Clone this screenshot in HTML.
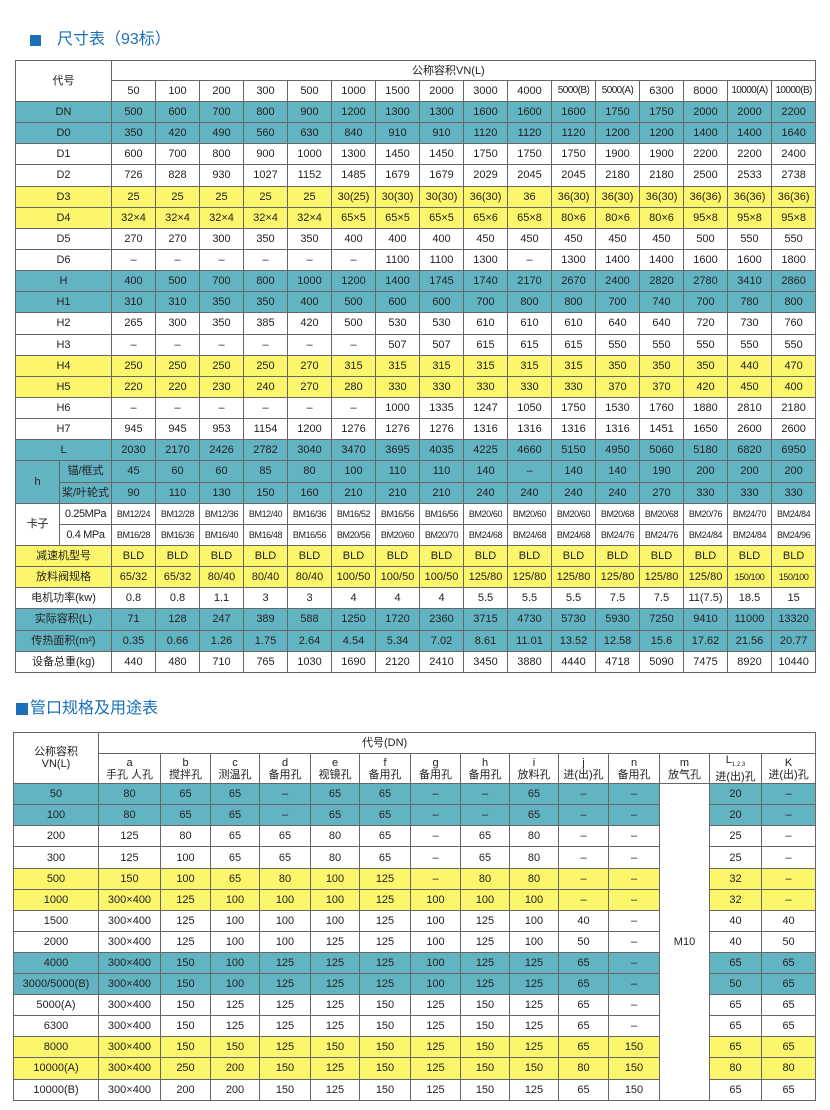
<!DOCTYPE html>
<html><head><meta charset="utf-8">
<style>
body{margin:0;width:830px;height:1110px;background:#fff;position:relative;font-family:"Liberation Sans","Noto Sans CJK SC",sans-serif;color:#222;overflow:hidden}
.t{position:absolute;color:#1a6fb8;font-size:16px;line-height:20px}
.sq{position:absolute;background:#1a6fb8}
table{position:absolute;border-collapse:collapse;table-layout:fixed;font-size:11px}
td{border:1px solid #666;text-align:center;padding:0;white-space:nowrap;overflow:hidden;line-height:12px}
#t1 tr.b td{height:20.15px}
#t2 tr.b td{height:20.1px}
.g td{background:#62b4c2}
.y td{background:#fcf66c}
.s{font-size:9px;letter-spacing:-0.4px}
.n{font-size:10px;letter-spacing:-0.6px}
.h td{background:#fff}
</style></head><body>
<div class="sq" style="left:30px;top:35px;width:11px;height:11px"></div>
<div class="t" style="left:57px;top:30px">尺寸表（93标）</div>

<table id="t1" style="left:15px;top:60px;width:800px">
<colgroup><col style="width:44px"><col style="width:52px"><col span="16" style="width:44px"></colgroup>
<tr class="h"><td colspan="2" rowspan="2" style="height:40px">代号</td><td colspan="16" style="height:19px;text-align:left;padding-left:300px">公称容积VN(L)</td></tr>
<tr class="h"><td style="height:20px">50</td><td>100</td><td>200</td><td>300</td><td>500</td><td>1000</td><td>1500</td><td>2000</td><td>3000</td><td>4000</td><td class="n">5000(B)</td><td class="n">5000(A)</td><td>6300</td><td>8000</td><td class="n">10000(A)</td><td class="n">10000(B)</td></tr>
<tr class="b g"><td colspan="2">DN</td><td>500</td><td>600</td><td>700</td><td>800</td><td>900</td><td>1200</td><td>1300</td><td>1300</td><td>1600</td><td>1600</td><td>1600</td><td>1750</td><td>1750</td><td>2000</td><td>2000</td><td>2200</td></tr>
<tr class="b g"><td colspan="2">D0</td><td>350</td><td>420</td><td>490</td><td>560</td><td>630</td><td>840</td><td>910</td><td>910</td><td>1120</td><td>1120</td><td>1120</td><td>1200</td><td>1200</td><td>1400</td><td>1400</td><td>1640</td></tr>
<tr class="b"><td colspan="2">D1</td><td>600</td><td>700</td><td>800</td><td>900</td><td>1000</td><td>1300</td><td>1450</td><td>1450</td><td>1750</td><td>1750</td><td>1750</td><td>1900</td><td>1900</td><td>2200</td><td>2200</td><td>2400</td></tr>
<tr class="b"><td colspan="2">D2</td><td>726</td><td>828</td><td>930</td><td>1027</td><td>1152</td><td>1485</td><td>1679</td><td>1679</td><td>2029</td><td>2045</td><td>2045</td><td>2180</td><td>2180</td><td>2500</td><td>2533</td><td>2738</td></tr>
<tr class="b y"><td colspan="2">D3</td><td>25</td><td>25</td><td>25</td><td>25</td><td>25</td><td>30(25)</td><td>30(30)</td><td>30(30)</td><td>36(30)</td><td>36</td><td>36(30)</td><td>36(30)</td><td>36(30)</td><td>36(36)</td><td>36(36)</td><td>36(36)</td></tr>
<tr class="b y"><td colspan="2">D4</td><td>32×4</td><td>32×4</td><td>32×4</td><td>32×4</td><td>32×4</td><td>65×5</td><td>65×5</td><td>65×5</td><td>65×6</td><td>65×8</td><td>80×6</td><td>80×6</td><td>80×6</td><td>95×8</td><td>95×8</td><td>95×8</td></tr>
<tr class="b"><td colspan="2">D5</td><td>270</td><td>270</td><td>300</td><td>350</td><td>350</td><td>400</td><td>400</td><td>400</td><td>450</td><td>450</td><td>450</td><td>450</td><td>450</td><td>500</td><td>550</td><td>550</td></tr>
<tr class="b"><td colspan="2">D6</td><td>–</td><td>–</td><td>–</td><td>–</td><td>–</td><td>–</td><td>1100</td><td>1100</td><td>1300</td><td>–</td><td>1300</td><td>1400</td><td>1400</td><td>1600</td><td>1600</td><td>1800</td></tr>
<tr class="b g"><td colspan="2">H</td><td>400</td><td>500</td><td>700</td><td>800</td><td>1000</td><td>1200</td><td>1400</td><td>1745</td><td>1740</td><td>2170</td><td>2670</td><td>2400</td><td>2820</td><td>2780</td><td>3410</td><td>2860</td></tr>
<tr class="b g"><td colspan="2">H1</td><td>310</td><td>310</td><td>350</td><td>350</td><td>400</td><td>500</td><td>600</td><td>600</td><td>700</td><td>800</td><td>800</td><td>700</td><td>740</td><td>700</td><td>780</td><td>800</td></tr>
<tr class="b"><td colspan="2">H2</td><td>265</td><td>300</td><td>350</td><td>385</td><td>420</td><td>500</td><td>530</td><td>530</td><td>610</td><td>610</td><td>610</td><td>640</td><td>640</td><td>720</td><td>730</td><td>760</td></tr>
<tr class="b"><td colspan="2">H3</td><td>–</td><td>–</td><td>–</td><td>–</td><td>–</td><td>–</td><td>507</td><td>507</td><td>615</td><td>615</td><td>615</td><td>550</td><td>550</td><td>550</td><td>550</td><td>550</td></tr>
<tr class="b y"><td colspan="2">H4</td><td>250</td><td>250</td><td>250</td><td>250</td><td>270</td><td>315</td><td>315</td><td>315</td><td>315</td><td>315</td><td>315</td><td>350</td><td>350</td><td>350</td><td>440</td><td>470</td></tr>
<tr class="b y"><td colspan="2">H5</td><td>220</td><td>220</td><td>230</td><td>240</td><td>270</td><td>280</td><td>330</td><td>330</td><td>330</td><td>330</td><td>330</td><td>370</td><td>370</td><td>420</td><td>450</td><td>400</td></tr>
<tr class="b"><td colspan="2">H6</td><td>–</td><td>–</td><td>–</td><td>–</td><td>–</td><td>–</td><td>1000</td><td>1335</td><td>1247</td><td>1050</td><td>1750</td><td>1530</td><td>1760</td><td>1880</td><td>2810</td><td>2180</td></tr>
<tr class="b"><td colspan="2">H7</td><td>945</td><td>945</td><td>953</td><td>1154</td><td>1200</td><td>1276</td><td>1276</td><td>1276</td><td>1316</td><td>1316</td><td>1316</td><td>1316</td><td>1451</td><td>1650</td><td>2600</td><td>2600</td></tr>
<tr class="b g"><td colspan="2">L</td><td>2030</td><td>2170</td><td>2426</td><td>2782</td><td>3040</td><td>3470</td><td>3695</td><td>4035</td><td>4225</td><td>4660</td><td>5150</td><td>4950</td><td>5060</td><td>5180</td><td>6820</td><td>6950</td></tr>
<tr class="b g"><td rowspan="2">h</td><td>锚/框式</td><td>45</td><td>60</td><td>60</td><td>85</td><td>80</td><td>100</td><td>110</td><td>110</td><td>140</td><td>–</td><td>140</td><td>140</td><td>190</td><td>200</td><td>200</td><td>200</td></tr>
<tr class="b g"><td>桨/叶轮式</td><td>90</td><td>110</td><td>130</td><td>150</td><td>160</td><td>210</td><td>210</td><td>210</td><td>240</td><td>240</td><td>240</td><td>240</td><td>270</td><td>330</td><td>330</td><td>330</td></tr>
<tr class="b s"><td rowspan="2" style="font-size:11px">卡子</td><td style="font-size:11px">0.25MPa</td><td>BM12/24</td><td>BM12/28</td><td>BM12/36</td><td>BM12/40</td><td>BM16/36</td><td>BM16/52</td><td>BM16/56</td><td>BM16/56</td><td>BM20/60</td><td>BM20/60</td><td>BM20/60</td><td>BM20/68</td><td>BM20/68</td><td>BM20/76</td><td>BM24/70</td><td>BM24/84</td></tr>
<tr class="b s"><td style="font-size:11px">0.4 MPa</td><td>BM16/28</td><td>BM16/36</td><td>BM16/40</td><td>BM16/48</td><td>BM16/56</td><td>BM20/56</td><td>BM20/60</td><td>BM20/70</td><td>BM24/68</td><td>BM24/68</td><td>BM24/68</td><td>BM24/76</td><td>BM24/76</td><td>BM24/84</td><td>BM24/84</td><td>BM24/96</td></tr>
<tr class="b y"><td colspan="2">减速机型号</td><td>BLD</td><td>BLD</td><td>BLD</td><td>BLD</td><td>BLD</td><td>BLD</td><td>BLD</td><td>BLD</td><td>BLD</td><td>BLD</td><td>BLD</td><td>BLD</td><td>BLD</td><td>BLD</td><td>BLD</td><td>BLD</td></tr>
<tr class="b y"><td colspan="2">放料阀规格</td><td>65/32</td><td>65/32</td><td>80/40</td><td>80/40</td><td>80/40</td><td>100/50</td><td>100/50</td><td>100/50</td><td>125/80</td><td>125/80</td><td>125/80</td><td>125/80</td><td>125/80</td><td>125/80</td><td class="s">150/100</td><td class="s">150/100</td></tr>
<tr class="b"><td colspan="2">电机功率(kw)</td><td>0.8</td><td>0.8</td><td>1.1</td><td>3</td><td>3</td><td>4</td><td>4</td><td>4</td><td>5.5</td><td>5.5</td><td>5.5</td><td>7.5</td><td>7.5</td><td>11(7.5)</td><td>18.5</td><td>15</td></tr>
<tr class="b g"><td colspan="2">实际容积(L)</td><td>71</td><td>128</td><td>247</td><td>389</td><td>588</td><td>1250</td><td>1720</td><td>2360</td><td>3715</td><td>4730</td><td>5730</td><td>5930</td><td>7250</td><td>9410</td><td>11000</td><td>13320</td></tr>
<tr class="b g"><td colspan="2">传热面积(m²)</td><td>0.35</td><td>0.66</td><td>1.26</td><td>1.75</td><td>2.64</td><td>4.54</td><td>5.34</td><td>7.02</td><td>8.61</td><td>11.01</td><td>13.52</td><td>12.58</td><td>15.6</td><td>17.62</td><td>21.56</td><td>20.77</td></tr>
<tr class="b"><td colspan="2">设备总重(kg)</td><td>440</td><td>480</td><td>710</td><td>765</td><td>1030</td><td>1690</td><td>2120</td><td>2410</td><td>3450</td><td>3880</td><td>4440</td><td>4718</td><td>5090</td><td>7475</td><td>8920</td><td>10440</td></tr>
</table>

<div class="sq" style="left:16px;top:703px;width:12px;height:12px"></div>
<div class="t" style="left:30px;top:699px">管口规格及用途表</div>

<table id="t2" style="left:13px;top:732px;width:802px">
<colgroup><col style="width:85px"><col style="width:62px"><col style="width:50px"><col style="width:49px"><col style="width:51px"><col style="width:49px"><col style="width:51px"><col style="width:50px"><col style="width:49px"><col style="width:49px"><col style="width:50px"><col style="width:51px"><col style="width:50px"><col style="width:52px"><col style="width:54px"></colgroup>
<tr class="h"><td rowspan="2" style="height:50px">公称容积<br>VN(L)</td><td colspan="14" style="height:20px;text-align:left;padding-left:263px">代号(DN)</td></tr>
<tr class="h"><td style="height:29px">a<br>手孔 人孔</td><td>b<br>搅拌孔</td><td>c<br>测温孔</td><td>d<br>备用孔</td><td>e<br>视镜孔</td><td>f<br>备用孔</td><td>g<br>备用孔</td><td>h<br>备用孔</td><td>i<br>放料孔</td><td>j<br>进(出)孔</td><td>n<br>备用孔</td><td>m<br>放气孔</td><td>L<sub style="font-size:6px">1.2.3</sub><br>进(出)孔</td><td>K<br>进(出)孔</td></tr>
<tr class="b g"><td>50</td><td>80</td><td>65</td><td>65</td><td>–</td><td>65</td><td>65</td><td>–</td><td>–</td><td>65</td><td>–</td><td>–</td><td rowspan="15" style="background:#fff">M10</td><td>20</td><td>–</td></tr>
<tr class="b g"><td>100</td><td>80</td><td>65</td><td>65</td><td>–</td><td>65</td><td>65</td><td>–</td><td>–</td><td>65</td><td>–</td><td>–</td><td>20</td><td>–</td></tr>
<tr class="b"><td>200</td><td>125</td><td>80</td><td>65</td><td>65</td><td>80</td><td>65</td><td>–</td><td>65</td><td>80</td><td>–</td><td>–</td><td>25</td><td>–</td></tr>
<tr class="b"><td>300</td><td>125</td><td>100</td><td>65</td><td>65</td><td>80</td><td>65</td><td>–</td><td>65</td><td>80</td><td>–</td><td>–</td><td>25</td><td>–</td></tr>
<tr class="b y"><td>500</td><td>150</td><td>100</td><td>65</td><td>80</td><td>100</td><td>125</td><td>–</td><td>80</td><td>80</td><td>–</td><td>–</td><td>32</td><td>–</td></tr>
<tr class="b y"><td>1000</td><td>300×400</td><td>125</td><td>100</td><td>100</td><td>100</td><td>125</td><td>100</td><td>100</td><td>100</td><td>–</td><td>–</td><td>32</td><td>–</td></tr>
<tr class="b"><td>1500</td><td>300×400</td><td>125</td><td>100</td><td>100</td><td>100</td><td>125</td><td>100</td><td>125</td><td>100</td><td>40</td><td>–</td><td>40</td><td>40</td></tr>
<tr class="b"><td>2000</td><td>300×400</td><td>125</td><td>100</td><td>100</td><td>125</td><td>125</td><td>100</td><td>125</td><td>100</td><td>50</td><td>–</td><td>40</td><td>50</td></tr>
<tr class="b g"><td>4000</td><td>300×400</td><td>150</td><td>100</td><td>125</td><td>125</td><td>125</td><td>100</td><td>125</td><td>125</td><td>65</td><td>–</td><td>65</td><td>65</td></tr>
<tr class="b g"><td>3000/5000(B)</td><td>300×400</td><td>150</td><td>100</td><td>125</td><td>125</td><td>125</td><td>100</td><td>125</td><td>125</td><td>65</td><td>–</td><td>50</td><td>65</td></tr>
<tr class="b"><td>5000(A)</td><td>300×400</td><td>150</td><td>125</td><td>125</td><td>125</td><td>150</td><td>125</td><td>150</td><td>125</td><td>65</td><td>–</td><td>65</td><td>65</td></tr>
<tr class="b"><td>6300</td><td>300×400</td><td>150</td><td>125</td><td>125</td><td>125</td><td>150</td><td>125</td><td>150</td><td>125</td><td>65</td><td>–</td><td>65</td><td>65</td></tr>
<tr class="b y"><td>8000</td><td>300×400</td><td>150</td><td>150</td><td>125</td><td>150</td><td>150</td><td>125</td><td>150</td><td>125</td><td>65</td><td>150</td><td>65</td><td>65</td></tr>
<tr class="b y"><td>10000(A)</td><td>300×400</td><td>250</td><td>200</td><td>150</td><td>125</td><td>150</td><td>125</td><td>150</td><td>150</td><td>80</td><td>150</td><td>80</td><td>80</td></tr>
<tr class="b"><td>10000(B)</td><td>300×400</td><td>200</td><td>200</td><td>150</td><td>125</td><td>150</td><td>125</td><td>150</td><td>125</td><td>65</td><td>150</td><td>65</td><td>65</td></tr>
</table>
</body></html>
